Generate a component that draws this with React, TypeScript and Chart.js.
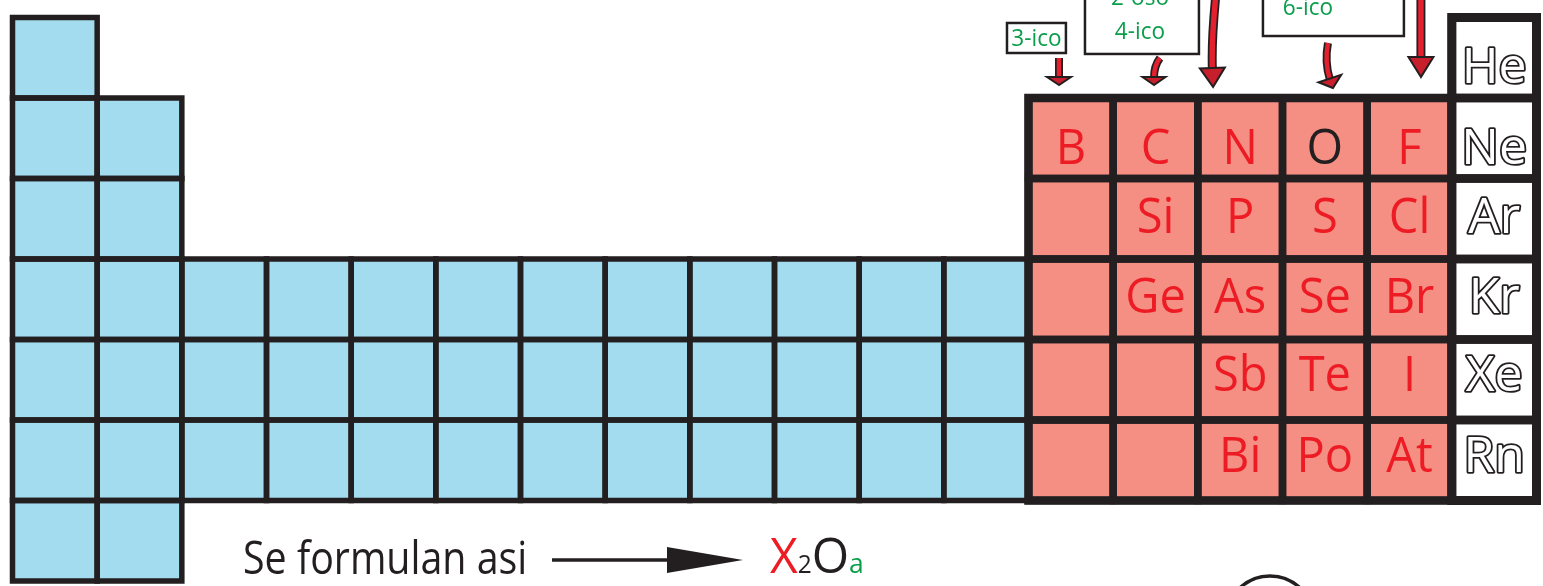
import { useEffect, useRef } from 'react';
import { Chart, registerables } from 'chart.js';

Chart.register(...registerables);

const _ = null;

// Groups (columns) of the table
const groups = ['1', '2', '3', '4', '5', '6', '7', '8', '9', '10', '11', '12', '13', '14', '15', '16', '17', '18'];

// Symbols per period: null = no cell, '' = unlabeled cell
const period1 = ['', _, _, _, _, _, _, _, _, _, _, _, _, _, _, _, _, 'He'];
const period2 = ['', '', _, _, _, _, _, _, _, _, _, _, 'B', 'C', 'N', 'O', 'F', 'Ne'];
const period3 = ['', '', _, _, _, _, _, _, _, _, _, _, '', 'Si', 'P', 'S', 'Cl', 'Ar'];
const period4 = ['', '', '', '', '', '', '', '', '', '', '', '', '', 'Ge', 'As', 'Se', 'Br', 'Kr'];
const period5 = ['', '', '', '', '', '', '', '', '', '', '', '', '', '', 'Sb', 'Te', 'I', 'Xe'];
const period6 = ['', '', '', '', '', '', '', '', '', '', '', '', '', '', 'Bi', 'Po', 'At', 'Rn'];
const period7 = ['', '', _, _, _, _, _, _, _, _, _, _, _, _, _, _, _, _];
const periods = [period1, period2, period3, period4, period5, period6, period7];

// Labels above groups 13, 14 and 16
const boxLabels13 = ['3-ico'];
const boxLabels14 = ['2-oso', '4-ico'];
const boxLabels16 = ['6-ico'];

// Caption under the table
const captionText = 'Se formulan asi';
const formulaParts = ['X', '2', 'O', 'a'];

// ---------- styles ----------
const FONT = "'Open Sans', 'Noto Sans', sans-serif";
const DARK = '#231f20';
const BLUE = '#a3dcef';
const PINK = '#f58f84';
const RED = '#ed1c24';
const GREEN = '#0a9e4b';
const ARROW_RED = '#e3202e';
const ARROW_HEAD = '#c81f2d';
const rowBaselineShift = [25, 26, 14, 14, 11, 12, 0];

const kindOf = (i: number) => (i <= 11 ? 'metal' : i <= 16 ? 'nonmetal' : 'noble');
const fillOf = (i: number) => (kindOf(i) === 'metal' ? BLUE : kindOf(i) === 'nonmetal' ? PINK : '#ffffff');

// annotation layout (in group / period units)
const arrowsCfg = [
  { from: [12.86, 1.003], tip: [12.86, 1.339], head: [8, 24], w: 8 },
  { from: [14.053, 1.003], via: [13.982, 1.1], tip: [13.982, 1.339], head: [8, 23], w: 8 },
  { from: [14.71, 0.25], via: [14.66, 0.8], tip: [14.68, 1.363], head: [19, 25], w: 9 },
  { from: [16.037, 0.817], via: [15.995, 1.05], tip: [16.096, 1.376], head: [10, 24], w: 8 },
  { from: [17.135, 0.25], tip: [17.135, 1.239], head: [20, 25], w: 9 },
];
const boxesCfg = [
  { x0: 12.246, x1: 12.942, y0: 0.568, y1: 0.941, lines: boxLabels13, tx: 12.594, ty: [0.854] },
  { x0: 13.167, x1: 14.513, y0: 0.15, y1: 0.953, lines: boxLabels14, tx: 13.816, ty: [0.345, 0.767] },
  { x0: 15.269, x1: 16.934, y0: 0.15, y1: 0.73, lines: boxLabels16, tx: 15.8, ty: [0.469] },
];

function drawText(ctx: CanvasRenderingContext2D, text: string, x: number, y: number, size: number, color: string, align: CanvasTextAlign = 'center', sx = 1) {
  ctx.save();
  ctx.translate(x, y);
  ctx.scale(sx, 1);
  ctx.font = `${size}px ${FONT}`;
  ctx.fillStyle = color;
  ctx.textAlign = align;
  ctx.textBaseline = 'alphabetic';
  ctx.fillText(text, 0, 0);
  ctx.restore();
}

const tablePlugin = {
  id: 'tableDecor',
  afterDatasetsDraw(chart: any) {
    const ctx: CanvasRenderingContext2D = chart.ctx;
    const cells: any[] = [];
    chart.data.datasets.forEach((ds: any, di: number) => {
      const meta = chart.getDatasetMeta(di);
      meta.data.forEach((el: any, i: number) => {
        if (ds.data[i] == null) return;
        const p = el.getProps(['x', 'y', 'base', 'width'], true);
        cells.push({
          i,
          row: di,
          left: p.x - p.width / 2,
          right: p.x + p.width / 2,
          top: Math.min(p.y, p.base),
          bottom: Math.max(p.y, p.base),
          cx: p.x,
          cy: (p.y + p.base) / 2,
          sym: periods[di][i],
        });
      });
    });
    ctx.save();
    ctx.strokeStyle = DARK;
    ctx.lineJoin = 'miter';
    const widths: any = { metal: 5.5, nonmetal: 7.5, noble: 8.5 };
    ['metal', 'nonmetal', 'noble'].forEach((k) => {
      ctx.lineWidth = widths[k];
      cells.filter((c) => kindOf(c.i) === k).forEach((c) => {
        ctx.strokeRect(c.left, c.top, c.right - c.left, c.bottom - c.top);
      });
    });
    // outer outlines of the pink block and noble column
    const outline = (list: any[], lw: number) => {
      const l = Math.min(...list.map((c) => c.left));
      const r = Math.max(...list.map((c) => c.right));
      const t = Math.min(...list.map((c) => c.top));
      const b = Math.max(...list.map((c) => c.bottom));
      ctx.lineWidth = lw;
      ctx.strokeRect(l, t, r - l, b - t);
    };
    outline(cells.filter((c) => kindOf(c.i) === 'nonmetal'), 8.5);
    outline(cells.filter((c) => kindOf(c.i) === 'noble'), 9);

    // symbols
    cells.forEach((c) => {
      if (!c.sym) return;
      const y = c.cy + rowBaselineShift[c.row];
      if (kindOf(c.i) === 'noble') {
        ctx.save();
        ctx.translate(c.cx, y);
        ctx.scale(1.02, 1.02);
        ctx.font = `49px ${FONT}`;
        ctx.textAlign = 'center';
        ctx.textBaseline = 'alphabetic';
        ctx.lineWidth = 3.6;
        ctx.lineJoin = 'round';
        ctx.strokeStyle = DARK;
        ctx.strokeText(c.sym, 0, 0);
        ctx.fillStyle = '#ffffff';
        ctx.fillText(c.sym, 0, 0);
        ctx.restore();
      } else {
        drawText(ctx, c.sym, c.cx, y, 49, c.sym === 'O' ? DARK : RED, 'center', 0.96);
      }
    });
    ctx.restore();
  },
  afterDraw(chart: any) {
    const ctx: CanvasRenderingContext2D = chart.ctx;
    const xs = chart.scales.x;
    const ys = chart.scales.y;
    const gx = (g: number) => xs.getPixelForValue(g - 1);
    const py = (p: number) => ys.getPixelForValue(p);
    ctx.save();

    // boxes with suffix labels
    boxesCfg.forEach((b) => {
      const l = gx(b.x0), r = gx(b.x1), t = py(b.y0), bt = py(b.y1);
      ctx.fillStyle = '#ffffff';
      ctx.fillRect(l, t, r - l, bt - t);
      ctx.strokeStyle = DARK;
      ctx.lineWidth = 2.5;
      ctx.strokeRect(l, t, r - l, bt - t);
      b.lines.forEach((txt, k) => drawText(ctx, txt, gx(b.tx), py(b.ty[k]), 23.5, GREEN, 'center', 0.96));
    });

    // red arrows
    arrowsCfg.forEach((a: any) => {
      const sx = gx(a.from[0]), sy = py(a.from[1]);
      const tx = gx(a.tip[0]), ty = py(a.tip[1]);
      const vx = a.via ? gx(a.via[0]) : sx, vy = a.via ? py(a.via[1]) : sy;
      let dx = tx - vx, dy = ty - vy;
      const len = Math.hypot(dx, dy) || 1;
      dx /= len; dy /= len;
      const [hl, hw] = a.head;
      const bx = tx - dx * hl, by = ty - dy * hl;
      const path = () => {
        ctx.beginPath();
        ctx.moveTo(sx, sy);
        if (a.via) ctx.quadraticCurveTo(vx, vy, bx, by + 1);
        else ctx.lineTo(bx, by + 1);
      };
      ctx.lineCap = 'butt';
      path();
      ctx.strokeStyle = DARK;
      ctx.lineWidth = a.w;
      ctx.stroke();
      path();
      ctx.strokeStyle = ARROW_RED;
      ctx.lineWidth = a.w - 3.5;
      ctx.stroke();
      const nx = -dy, ny = dx;
      ctx.beginPath();
      ctx.moveTo(tx, ty);
      ctx.lineTo(bx + nx * hw / 2, by + ny * hw / 2);
      ctx.lineTo(bx - nx * hw / 2, by - ny * hw / 2);
      ctx.closePath();
      ctx.fillStyle = ARROW_HEAD;
      ctx.fill();
      ctx.lineWidth = 2;
      ctx.lineJoin = 'miter';
      ctx.strokeStyle = DARK;
      ctx.stroke();
    });

    // caption
    drawText(ctx, captionText, gx(3.222), py(7.413), 45, DARK, 'left', 0.875);

    // black arrow
    const ay = py(7.239);
    ctx.strokeStyle = DARK;
    ctx.lineWidth = 3.5;
    ctx.beginPath();
    ctx.moveTo(gx(6.872), ay);
    ctx.lineTo(gx(8.3), ay);
    ctx.stroke();
    ctx.beginPath();
    ctx.moveTo(gx(9.128), ay);
    ctx.lineTo(gx(8.23), ay - 13);
    ctx.lineTo(gx(8.23), ay + 13);
    ctx.closePath();
    ctx.fillStyle = DARK;
    ctx.fill();

    // formula X2Oa
    const fy = py(7.401);
    let fx = gx(9.446);
    const sizes = [49, 25, 49, 27];
    const colors = [RED, DARK, DARK, GREEN];
    formulaParts.forEach((part, k) => {
      ctx.font = `${sizes[k]}px ${FONT}`;
      const w = ctx.measureText(part).width * 0.98;
      drawText(ctx, part, fx, fy, sizes[k], colors[k], 'left', 0.98);
      fx += w;
    });

    // circle at bottom
    ctx.beginPath();
    ctx.arc(gx(15.352), py(7.984), 44, 0, Math.PI * 2);
    ctx.lineWidth = 3.5;
    ctx.strokeStyle = DARK;
    ctx.stroke();

    ctx.restore();
  },
};

export default function App() {
  const ref = useRef<HTMLCanvasElement>(null);
  useEffect(() => {
    document.body.style.margin = '0';
    const datasets = periods.map((row, pi) => ({
      label: `Periodo ${pi + 1}`,
      data: row.map((s) => (s === null ? null : [pi + 0.5, pi + 1.5])),
      backgroundColor: row.map((_s, i) => fillOf(i)),
      borderWidth: 0,
      grouped: false,
      barPercentage: 1,
      categoryPercentage: 1,
    }));
    const chart = new Chart(ref.current as HTMLCanvasElement, {
      type: 'bar',
      data: { labels: groups, datasets: datasets as any },
      options: {
        responsive: false,
        animation: false,
        events: [],
        layout: { padding: { left: 12.5, right: 6.5, top: 17.5, bottom: 5 } },
        scales: {
          x: { type: 'category', display: false, offset: true },
          y: { type: 'linear', display: false, min: 0.5, max: 7.5, reverse: true },
        },
        plugins: { legend: { display: false }, tooltip: { enabled: false }, title: { display: false } },
      },
      plugins: [tablePlugin],
    });
    return () => chart.destroy();
  }, []);
  return (
    <div style={{ width: 1543, height: 586, background: '#ffffff' }}>
      <canvas ref={ref} width={1543} height={586} style={{ display: 'block', width: 1543, height: 586 }} />
    </div>
  );
}
